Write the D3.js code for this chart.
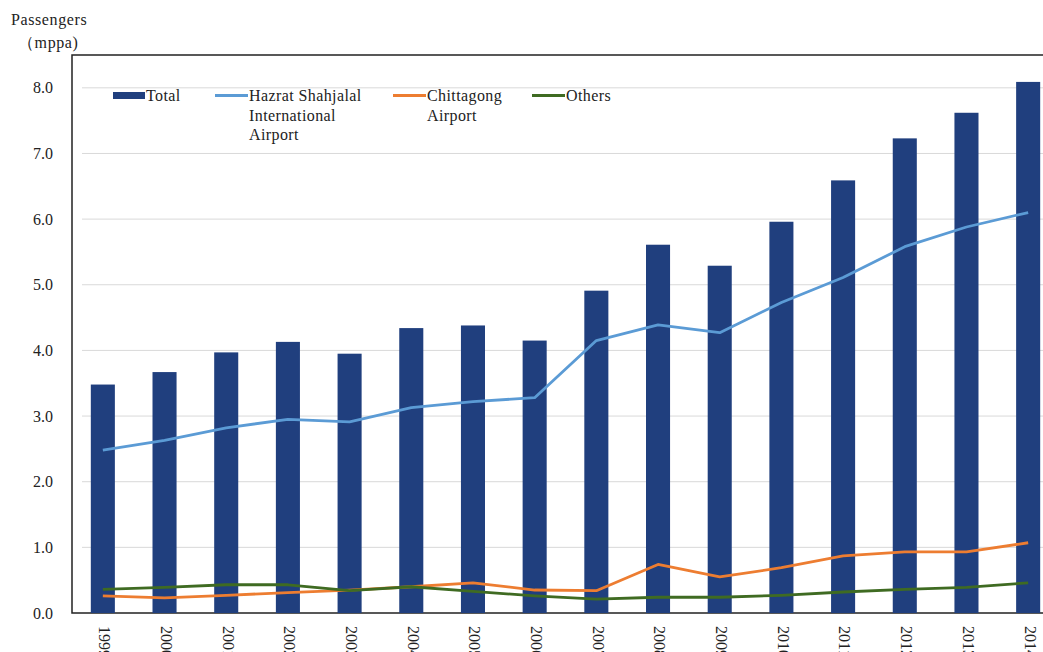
<!DOCTYPE html>
<html>
<head>
<meta charset="utf-8">
<script src="https://cdn.jsdelivr.net/npm/d3@7/dist/d3.min.js"></script>
<style>
  html, body { margin: 0; padding: 0; background: #fff; }
  svg { display: block; font-family: "Liberation Serif", "DejaVu Serif", serif; }
</style>
</head>
<body>
<svg id="chart" width="1043" height="652"></svg>
<script>
// Annual passenger traffic, million passengers per annum
const years = ["1999","2000","2001","2002","2003","2004","2005","2006","2007","2008","2009","2010","2011","2012","2013","2014"];
const total      = [3.48, 3.67, 3.97, 4.13, 3.95, 4.34, 4.38, 4.15, 4.91, 5.61, 5.29, 5.96, 6.59, 7.23, 7.62, 8.09];
const shahjalal  = [2.48, 2.63, 2.82, 2.95, 2.91, 3.13, 3.22, 3.28, 4.15, 4.39, 4.27, 4.73, 5.11, 5.58, 5.88, 6.10];
const chittagong = [0.26, 0.23, 0.27, 0.31, 0.35, 0.40, 0.46, 0.35, 0.34, 0.74, 0.55, 0.69, 0.87, 0.93, 0.93, 1.07];
const others     = [0.36, 0.39, 0.43, 0.43, 0.34, 0.40, 0.33, 0.26, 0.21, 0.24, 0.24, 0.27, 0.32, 0.36, 0.39, 0.46];
const yTicks = [0, 1, 2, 3, 4, 5, 6, 7, 8];

const svg = d3.select("#chart");
const plotLeft = 72, plotTop = 55, plotBottom = 613, plotRight = 1059;
const fontSize = 16;

const x = d3.scaleBand().domain(years).range([plotLeft, plotRight]).paddingInner(0.61).paddingOuter(0.305);
const y = d3.scaleLinear().domain([0, 8.5]).range([plotBottom, plotTop]);

// gridlines
svg.append("g").selectAll("line").data(yTicks.slice(1)).join("line")
  .attr("x1", plotLeft + 10).attr("x2", 1043)
  .attr("y1", d => y(d)).attr("y2", d => y(d))
  .attr("stroke", "#d9d9d9").attr("stroke-width", 1);

// frame: top, left, bottom
svg.append("path")
  .attr("d", `M${1043},${plotTop}H${plotLeft}V${plotBottom}H${1043}`)
  .attr("fill", "none").attr("stroke", "#222").attr("stroke-width", 1.5);

// bars
svg.append("g").selectAll("rect").data(total).join("rect")
  .attr("x", (d, i) => x(years[i]))
  .attr("width", x.bandwidth())
  .attr("y", d => y(d))
  .attr("height", d => y(0) - y(d))
  .attr("fill", "#203f7e");

// lines
const lineGen = d3.line()
  .x((d, i) => x(years[i]) + x.bandwidth() / 2)
  .y(d => y(d));
const series = [
  { values: shahjalal, color: "#5b9bd5" },
  { values: chittagong, color: "#ed7d31" },
  { values: others, color: "#3f6b22" }
];
series.forEach(s => {
  svg.append("path").datum(s.values)
    .attr("d", lineGen)
    .attr("fill", "none")
    .attr("stroke", s.color)
    .attr("stroke-width", 2.8)
    .attr("stroke-linejoin", "round");
});

// y axis labels
svg.append("g").selectAll("text").data(yTicks).join("text")
  .attr("x", 53).attr("y", d => y(d))
  .attr("dy", "0.35em")
  .attr("text-anchor", "end")
  .attr("font-size", fontSize).attr("fill", "#222")
  .text(d => d.toFixed(1));

// x axis labels, rotated to read downward
svg.append("g").selectAll("text").data(years).join("text")
  .attr("transform", d => `translate(${x(d) + x.bandwidth() / 2 + 2},${626}) rotate(90)`)
  .attr("dy", "0.35em")
  .attr("font-size", fontSize).attr("fill", "#222")
  .text(d => d);

// axis title
svg.append("text").attr("x", 11).attr("y", 25).attr("font-size", fontSize)
  .attr("letter-spacing", 0.6).attr("fill", "#222").text("Passengers");
svg.append("text").attr("x", 18).attr("y", 48).attr("font-size", fontSize)
  .attr("letter-spacing", 0.6).attr("fill", "#222").text("（mppa)");

// legend
const legend = svg.append("g").attr("font-size", fontSize).attr("letter-spacing", 0.4).attr("fill", "#222");
const items = [
  { type: "bar", color: "#203f7e", x: 113, w: 32, lines: ["Total"] },
  { type: "line", color: "#5b9bd5", x: 215, w: 33, lines: ["Hazrat Shahjalal", "International", "Airport"] },
  { type: "line", color: "#ed7d31", x: 393, w: 33, lines: ["Chittagong", "Airport"] },
  { type: "line", color: "#3f6b22", x: 532, w: 33, lines: ["Others"] }
];
items.forEach(it => {
  if (it.type === "bar") {
    legend.append("rect").attr("x", it.x).attr("y", 92).attr("width", it.w).attr("height", 7).attr("fill", it.color);
  } else {
    legend.append("line").attr("x1", it.x).attr("x2", it.x + it.w).attr("y1", 95.5).attr("y2", 95.5)
      .attr("stroke", it.color).attr("stroke-width", 2.8);
  }
  const t = legend.append("text").attr("x", it.x + it.w + 1).attr("y", 101);
  it.lines.forEach((l, k) => {
    t.append("tspan").attr("x", it.x + it.w + 1).attr("dy", k === 0 ? 0 : 19.5).text(l);
  });
});
</script>
</body>
</html>
